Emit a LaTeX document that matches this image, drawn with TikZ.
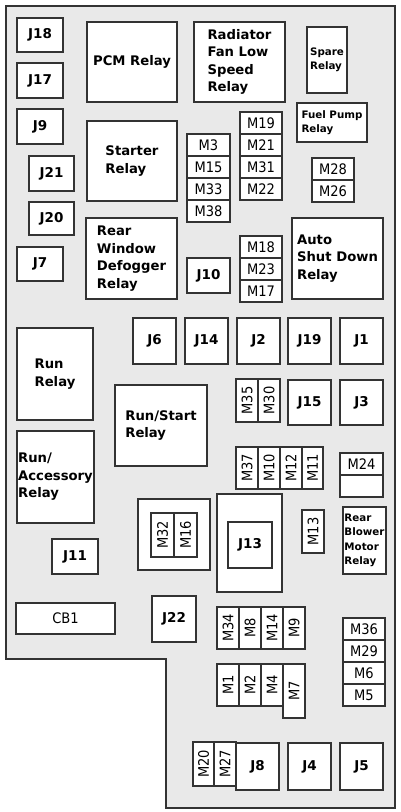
\documentclass[tikz,border=0pt]{standalone}
\usepackage{fontspec}
\setmainfont{DejaVu Sans}
\newfontfamily\condfont{DejaVu Sans Condensed}
\definecolor{panelgray}{HTML}{E9E9E9}
\definecolor{boxline}{HTML}{333333}

\begin{document}
\begin{tikzpicture}[x=1pt,y=-1pt,
  box/.style={draw=boxline,fill=white,line width=1.2pt,inner sep=0pt},
  sz/.style 2 args={minimum width=#1,minimum height=#2},
  relay/.style={box,align=left,font=\bfseries\fontsize{13.2}{17.5}\selectfont},
  minirelay/.style={box,align=left,font=\bfseries\fontsize{10.3}{14.5}\selectfont},
  jack/.style={box,font=\bfseries\fontsize{13.5}{15}\selectfont},
  fuse/.style={box,font=\condfont\fontsize{14.5}{16}\selectfont},
  vfuse/.style={fuse,rotate=90}]
  \useasboundingbox (0,0) rectangle (400,812);
  % housing
  \draw[boxline,line width=1.6pt,fill=panelgray] (6,6) -- (395,6) -- (395,808) -- (166,808)
    -- (166,659) -- (6,659) -- cycle;

  % left column of jacks
  \node[jack,sz={46}{34}] (j18) at (40,35) {J18};
  \node[jack,sz={46}{35}] (j17) at (40,80.5) {J17};
  \node[jack,sz={46}{35}] (j9) at (40,126.5) {J9};
  \node[jack,sz={45}{35}] (j21) at (51.5,173.5) {J21};
  \node[jack,sz={45}{33}] (j20) at (51.5,218.5) {J20};
  \node[jack,sz={46}{34}] (j7) at (40,264) {J7};

  % relays
  \node[relay,sz={90}{80}] (pcm) at (132,62) {PCM Relay};
  \node[relay,sz={91}{80}] (radfan) at (239.5,62) {Radiator\\Fan Low\\Speed\\Relay};
  \node[minirelay,sz={40}{66}] (spare) at (327,60) {Spare\\Relay};
  \node[minirelay,sz={70}{39}] (fuelpump) at (332,122.5) {Fuel Pump\\Relay};
  \node[relay,sz={90}{80}] (starter) at (132,161) {Starter\\Relay};
  \node[relay,sz={91}{81}] (defog) at (131.5,258.5) {Rear\\Window\\Defogger\\Relay};
  \node[relay,sz={91}{81}] (asd) at (337.5,258.5) {Auto\\Shut Down\\Relay};
  \node[relay,sz={76}{92}] (run) at (55,374) {Run\\Relay};
  \node[relay,sz={92}{81}] (runstart) at (161,425.5) {Run/Start\\Relay};
  \node[relay,sz={77}{92}] (runacc) at (55.5,477) {Run/\\Accessory\\Relay};
  \node[minirelay,sz={43}{67}] (blower) at (364.5,540.5) {Rear\\Blower\\Motor\\Relay};

  % upper fuse stacks
  \node[fuse,sz={43}{22}] (m3) at (208.5,145) {M3};
  \node[fuse,sz={43}{22}] (m15) at (208.5,167) {M15};
  \node[fuse,sz={43}{22}] (m33) at (208.5,189) {M33};
  \node[fuse,sz={43}{22}] (m38) at (208.5,211) {M38};
  \node[fuse,sz={42}{22}] (m19) at (261,123) {M19};
  \node[fuse,sz={42}{22}] (m21) at (261,145) {M21};
  \node[fuse,sz={42}{22}] (m31) at (261,167) {M31};
  \node[fuse,sz={42}{22}] (m22) at (261,189) {M22};
  \node[fuse,sz={42}{22}] (m28) at (333,169) {M28};
  \node[fuse,sz={42}{22}] (m26) at (333,191) {M26};
  \node[fuse,sz={42}{22}] (m18) at (261,247) {M18};
  \node[fuse,sz={42}{22}] (m23) at (261,269) {M23};
  \node[fuse,sz={42}{22}] (m17) at (261,291) {M17};
  \node[jack,sz={43}{35}] (j10) at (208.5,275.5) {J10};

  % middle row of jacks
  \node[jack,sz={43}{46}] (j6) at (154.5,341) {J6};
  \node[jack,sz={43}{46}] (j14) at (206.5,341) {J14};
  \node[jack,sz={43}{46}] (j2) at (258.5,341) {J2};
  \node[jack,sz={43}{46}] (j19) at (309.5,341) {J19};
  \node[jack,sz={43}{46}] (j1) at (361.5,341) {J1};
  \node[vfuse,sz={43}{22}] (m35) at (247,400.5) {M35};
  \node[vfuse,sz={43}{22}] (m30) at (269,400.5) {M30};
  \node[jack,sz={43}{45}] (j15) at (309.5,402.5) {J15};
  \node[jack,sz={43}{45}] (j3) at (361.5,402.5) {J3};

  \node[vfuse,sz={42}{22}] (m37) at (247,468) {M37};
  \node[vfuse,sz={42}{22}] (m10) at (269,468) {M10};
  \node[vfuse,sz={42}{22}] (m12) at (291,468) {M12};
  \node[vfuse,sz={42}{21}] (m11) at (312.5,468) {M11};
  \node[fuse,sz={43}{22}] (m24) at (361.5,464) {M24};
  \node[fuse,sz={43}{22}] (m24b) at (361.5,486) {};
  \node[vfuse,sz={43}{22}] (m13) at (313,531.5) {M13};

  % J13 and M32/M16 carriers
  \node[box,sz={65}{98}] (j13base) at (249.5,543) {};
  \node[jack,sz={44}{46}] (j13) at (250,545) {J13};
  \node[box,sz={72}{71}] (m32base) at (174,534.5) {};
  \node[vfuse,sz={44}{23}] (m32) at (162.5,535) {M32};
  \node[vfuse,sz={44}{23}] (m16) at (185.5,535) {M16};
  \node[jack,sz={46}{35}] (j11) at (75,556.5) {J11};

  % lower part
  \node[fuse,sz={99}{31}] (cb1) at (65.5,618.5) {CB1};
  \node[jack,sz={44}{46}] (j22) at (174,619) {J22};
  \node[vfuse,sz={42}{22}] (m34) at (228,628) {M34};
  \node[vfuse,sz={42}{22}] (m8) at (250,628) {M8};
  \node[vfuse,sz={42}{22}] (m14) at (272,628) {M14};
  \node[vfuse,sz={42}{22}] (m9) at (294,628) {M9};
  \node[vfuse,sz={42}{22}] (m1) at (228,685) {M1};
  \node[vfuse,sz={42}{22}] (m2) at (250,685) {M2};
  \node[vfuse,sz={42}{22}] (m4) at (272,685) {M4};
  \node[vfuse,sz={54}{22}] (m7) at (294,691) {M7};
  \node[fuse,sz={42}{22}] (m36) at (364,629) {M36};
  \node[fuse,sz={42}{22}] (m29) at (364,651) {M29};
  \node[fuse,sz={42}{22}] (m6) at (364,673) {M6};
  \node[fuse,sz={42}{22}] (m5) at (364,695) {M5};
  \node[vfuse,sz={44}{21}] (m20) at (203.5,764) {M20};
  \node[vfuse,sz={44}{22}] (m27) at (225,764) {M27};
  \node[jack,sz={43}{47}] (j8) at (257.5,766.5) {J8};
  \node[jack,sz={43}{47}] (j4) at (309.5,766.5) {J4};
  \node[jack,sz={43}{47}] (j5) at (361.5,766.5) {J5};
\end{tikzpicture}
\end{document}
